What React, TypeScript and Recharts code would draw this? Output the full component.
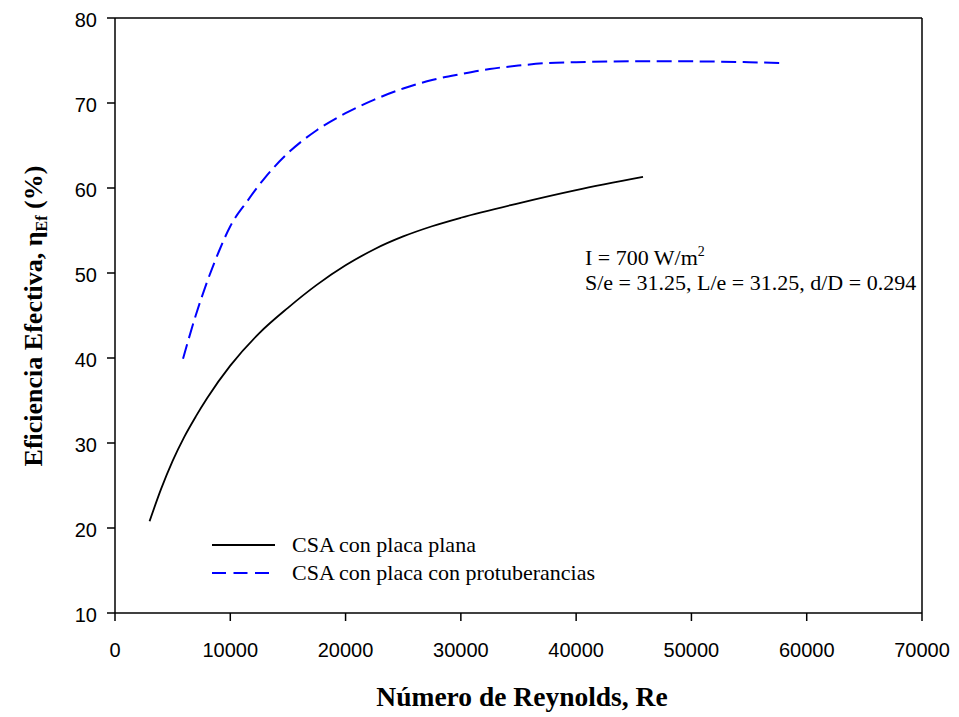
import { LineChart, Line, XAxis, YAxis, ReferenceLine } from 'recharts'

// Número de Reynolds vs eficiencia efectiva (%)
const planaRe = [3000, 4000, 5000, 6000, 7000, 8000, 10000, 12500, 15000, 17500, 20000, 22500, 25000, 27500, 30000, 35000, 40000, 45800]
const planaEf = [20.8, 24.6, 27.9, 30.7, 33.1, 35.3, 39.1, 42.9, 45.9, 48.6, 50.9, 52.8, 54.3, 55.5, 56.5, 58.2, 59.75, 61.3]

const protRe = [5900, 7000, 8000, 9000, 10000, 11500, 13000, 15000, 17500, 20000, 22500, 25000, 27500, 30000, 32500, 35000, 37500, 40000, 45000, 50000, 55000, 58000]
const protEf = [39.9, 45.0, 49.0, 52.5, 55.5, 58.5, 61.2, 64.1, 66.8, 68.8, 70.4, 71.7, 72.7, 73.4, 74.0, 74.4, 74.7, 74.8, 74.9, 74.9, 74.8, 74.7]

const xTicks = [0, 10000, 20000, 30000, 40000, 50000, 60000, 70000]
const yTicks = [10, 20, 30, 40, 50, 60, 70, 80]

const serieNames = ['CSA con placa plana', 'CSA con placa con protuberancias']

const toPoints = (re: number[], ef: number[]) => re.map((r, i) => ({ re: r, ef: ef[i] }))

const series = [
  { name: serieNames[0], data: toPoints(planaRe, planaEf), color: '#000000', dash: undefined as string | undefined, width: 1.8 },
  { name: serieNames[1], data: toPoints(protRe, protEf), color: '#0000ff', dash: '15 6.5', width: 2 },
]

const SANS = '"Liberation Sans", Arial, Helvetica, sans-serif'
const SERIF = '"Liberation Serif", "Times New Roman", Times, serif'

function XTick(props: any) {
  const { x, y, payload } = props
  return (
    <text x={x} y={y + 34} textAnchor="middle" fontFamily={SANS} fontSize={20} fill="#000">
      {payload.value}
    </text>
  )
}

function YTick(props: any) {
  const { x, y, payload } = props
  return (
    <text x={x - 8} y={y + 9} textAnchor="end" fontFamily={SANS} fontSize={20} fill="#000">
      {payload.value}
    </text>
  )
}

export default function App() {
  return (
    <div style={{ position: 'absolute', left: 0, top: 0, width: 959, height: 717, background: '#fff' }}>
      <LineChart width={959} height={717} margin={{ top: 18, right: 37, left: 55, bottom: 64 }}>
        <XAxis
          type="number"
          dataKey="re"
          domain={[0, 70000]}
          ticks={xTicks}
          allowDataOverflow
          height={40}
          tickSize={8}
          tickMargin={2}
          tick={XTick}
          stroke="#000"
          strokeWidth={1.5}
        />
        <YAxis
          type="number"
          domain={[10, 80]}
          ticks={yTicks}
          allowDataOverflow
          width={60}
          tickSize={8}
          tickMargin={2}
          tick={YTick}
          stroke="#000"
          strokeWidth={1.5}
        />
        <ReferenceLine y={80} stroke="#000" strokeWidth={1.5} />
        <ReferenceLine x={70000} stroke="#000" strokeWidth={1.5} />
        {series.map((s) => (
          <Line
            key={s.name}
            data={s.data}
            dataKey="ef"
            name={s.name}
            type="monotone"
            stroke={s.color}
            strokeWidth={s.width}
            strokeDasharray={s.dash}
            dot={false}
            activeDot={false}
            isAnimationActive={false}
          />
        ))}
      </LineChart>

      <svg width={959} height={717} style={{ position: 'absolute', left: 0, top: 0, pointerEvents: 'none' }}>
        {/* legend */}
        {series.map((s, i) => (
          <g key={s.name}>
            <line x1={212} x2={275} y1={545 + i * 28} y2={545 + i * 28} stroke={s.color} strokeWidth={s.width} strokeDasharray={s.dash ? '14 7.5' : undefined} />
            <text x={292} y={552 + i * 28} fontFamily={SERIF} fontSize={22} fill="#000">
              {s.name}
            </text>
          </g>
        ))}

        {/* annotation */}
        <text x={585} y={265} fontFamily={SERIF} fontSize={22} fill="#000">
          I = 700 W/m
          <tspan fontSize={14} dy={-9}>2</tspan>
        </text>
        <text x={585} y={290} fontFamily={SERIF} fontSize={22} fill="#000">
          S/e = 31.25, L/e = 31.25, d/D = 0.294
        </text>

        {/* axis titles */}
        <text x={522} y={706} textAnchor="middle" fontFamily={SERIF} fontWeight="bold" fontSize={27.5} fill="#000">
          Número de Reynolds, Re
        </text>
        <text
          x={42}
          y={316}
          transform="rotate(-90 42 316)"
          textAnchor="middle"
          fontFamily={SERIF}
          fontWeight="bold"
          fontSize={26}
          fill="#000"
        >
          Eficiencia Efectiva, η
          <tspan fontSize={16} dy={5}>Ef</tspan>
          <tspan dy={-5}> (%)</tspan>
        </text>
      </svg>
    </div>
  )
}
